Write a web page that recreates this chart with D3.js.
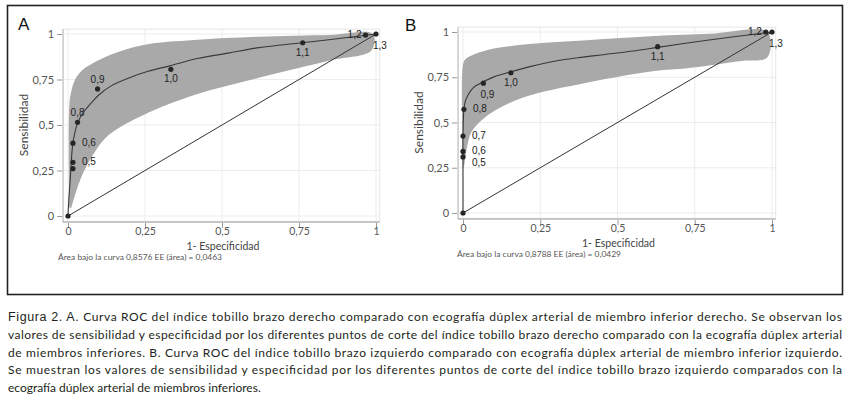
<!doctype html>
<head>
  <meta charset="utf-8">
  <script src="https://cdnjs.cloudflare.com/ajax/libs/d3/7.8.2/d3.min.js"></script>
</head>
<style>
    body { margin: 0; background: #fff; }
    svg text { font-family: Lato, "DejaVu Sans", sans-serif; }
</style>
<body>
<svg id="fig" width="851" height="396"></svg>
<script>
    // ------------ DATOS ----------------

    const tickValues = [0, 0.25, 0.5, 0.75, 1];
    const tickLabels = ["0", "0,25", "0,5", "0,75", "1"];

    // Panel A: puntos de corte (1 - especificidad, sensibilidad)
    const cutA = ["0", "", "0,5", "0,6", "0,8", "0,9", "1,0", "1,1", "1,2", "1,3"];
    const fprA = [0, 0.016, 0.016, 0.016, 0.031, 0.096, 0.334, 0.762, 0.966, 1];
    const tprA = [0, 0.26, 0.295, 0.40, 0.515, 0.698, 0.806, 0.952, 0.994, 1];
    const labelPosA = ["", "", "r", "r", "t", "t", "b", "b", "l", "br"];

    // Curva ROC ajustada A
    const curveFprA = [0, 0.003, 0.008, 0.016, 0.031, 0.05, 0.075, 0.1, 0.14, 0.2, 0.26, 0.33, 0.42, 0.52, 0.62, 0.76, 0.88, 1];
    const curveTprA = [0, 0.1, 0.22, 0.4, 0.51, 0.57, 0.62, 0.665, 0.715, 0.76, 0.795, 0.825, 0.865, 0.895, 0.925, 0.952, 0.975, 1];

    // Banda de confianza A (borde superior e inferior)
    const upperA = [[0.004, 0.05], [0.004, 0.6], [0.01, 0.68], [0.023, 0.75], [0.045, 0.8], [0.071, 0.83], [0.136, 0.885], [0.245, 0.94], [0.41, 0.967], [0.62, 0.985], [0.85, 0.995], [0.99, 1.0]];
    const lowerA = [[0.985, 0.91], [0.85, 0.855], [0.62, 0.76], [0.41, 0.665], [0.245, 0.555], [0.136, 0.45], [0.094, 0.37], [0.05, 0.24], [0.02, 0.1], [0.01, 0.04]];

    // Panel B
    const cutB = ["0", "0,5", "0,6", "0,7", "0,8", "0,9", "1,0", "1,1", "1,2", "1,3"];
    const fprB = [0, 0, 0, 0, 0.003, 0.066, 0.155, 0.63, 0.98, 1];
    const tprB = [0, 0.31, 0.34, 0.425, 0.573, 0.717, 0.775, 0.919, 1.0, 1];
    const labelPosB = ["", "rb", "r", "r", "r", "br", "b", "b", "l", "br"];

    const curveFprB = [0, 0, 0, 0.003, 0.008, 0.016, 0.027, 0.039, 0.066, 0.1, 0.155, 0.22, 0.3, 0.38, 0.46, 0.55, 0.63, 0.75, 0.87, 1];
    const curveTprB = [0, 0.2, 0.43, 0.573, 0.62, 0.65, 0.68, 0.70, 0.725, 0.752, 0.78, 0.81, 0.84, 0.86, 0.876, 0.895, 0.915, 0.945, 0.972, 1];

    const upperB = [[0.001, 0.25], [0, 0.82], [0.008, 0.85], [0.028, 0.87], [0.08, 0.9], [0.19, 0.93], [0.4, 0.955], [0.62, 0.978], [0.8, 0.99], [0.985, 1.0]];
    const lowerB = [[0.985, 0.86], [0.9, 0.84], [0.725, 0.8], [0.62, 0.785], [0.4, 0.72], [0.19, 0.635], [0.08, 0.54], [0.028, 0.45], [0.015, 0.38], [0.007, 0.3], [0.003, 0.25]];

    const areaA = "Área bajo la curva  0,8576 EE (área) = 0,0463";
    const areaB = "Área bajo la curva  0,8788 EE (área) = 0,0429";

    const caption = [
        ["Figura 2. A.", " Curva ROC del índice tobillo brazo derecho comparado con ecografía dúplex arterial de miembro inferior derecho. Se observan los"],
        ["", "valores de sensibilidad y especificidad por los diferentes puntos de corte del índice tobillo brazo derecho comparado con la ecografía dúplex arterial"],
        ["", "de miembros inferiores. B. Curva ROC del índice tobillo brazo izquierdo comparado con ecografía dúplex arterial de miembro inferior izquierdo."],
        ["", "Se muestran los valores de sensibilidad y especificidad por los diferentes puntos de corte del índice tobillo brazo izquierdo comparados con la"],
        ["", "ecografía dúplex arterial de miembros inferiores."]
    ];

    // ------------ DIBUJO ----------------

    const svg = d3.select('#fig');

    // Marco exterior
    svg.append('rect')
        .attr('x', 7.5).attr('y', 5.5)
        .attr('width', 835).attr('height', 289)
        .attr('fill', 'none')
        .attr('stroke', '#222')
        .attr('stroke-width', 1.6);

    const labelOffsets = {
        r: [9, 3, 'start'], rb: [9, 9, 'start'], t: [0, -6, 'middle'],
        b: [0, 13, 'middle'], l: [-4, 3, 'end'], br: [-3, 15, 'start']
    };

    function drawPanel(p) {
        const x = d3.scaleLinear().domain([0, 1]).range(p.xRange);
        const y = d3.scaleLinear().domain([0, 1]).range(p.yRange);
        const left = x(-0.016), right = x(1.012), top = y(1.027), bottom = y(-0.033);
        const g = svg.append('g');

        // rejilla
        g.selectAll('.gx').data(tickValues).enter().append('line')
            .attr('x1', d => x(d)).attr('x2', d => x(d))
            .attr('y1', top).attr('y2', bottom)
            .attr('stroke', '#ececec');
        g.selectAll('.gy').data(tickValues).enter().append('line')
            .attr('x1', left).attr('x2', right)
            .attr('y1', d => y(d)).attr('y2', d => y(d))
            .attr('stroke', '#ececec');
        g.append('rect')
            .attr('x', left).attr('y', top)
            .attr('width', right - left).attr('height', bottom - top)
            .attr('fill', 'none').attr('stroke', '#e6e6e6');

        // banda
        const band = p.upper.concat(p.lower);
        const smooth = d3.line()
            .x(d => x(d[0])).y(d => y(d[1]))
            .curve(d3.curveCatmullRom.alpha(0.5));
        g.append('path')
            .attr('d', smooth(band) + 'Z')
            .attr('fill', '#a9a9a9');

        // diagonal
        g.append('line')
            .attr('x1', x(0)).attr('y1', y(0))
            .attr('x2', x(1)).attr('y2', y(1))
            .attr('stroke', '#333').attr('stroke-width', 1);

        // curva
        const curve = p.curveFpr.map((f, i) => [f, p.curveTpr[i]]);
        g.append('path')
            .attr('d', smooth(curve))
            .attr('fill', 'none')
            .attr('stroke', '#3a3a3a')
            .attr('stroke-width', 1.1);

        // puntos de corte
        const pts = p.fpr.map((f, i) => ({ f: f, t: p.tpr[i], label: p.cut[i], pos: p.labelPos[i] }));
        g.selectAll('.pt').data(pts).enter().append('circle')
            .attr('cx', d => x(d.f)).attr('cy', d => y(d.t))
            .attr('r', 2.6).attr('fill', '#262626');
        g.selectAll('.lab').data(pts.filter(d => d.pos)).enter().append('text')
            .attr('x', d => x(d.f) + labelOffsets[d.pos][0])
            .attr('y', d => y(d.t) + labelOffsets[d.pos][1])
            .attr('text-anchor', d => labelOffsets[d.pos][2])
            .style('font-family', '"Liberation Sans", Arial, sans-serif')
            .style('font-size', '10px')
            .attr('fill', '#222')
            .text(d => d.label);

        // ejes
        const fmt = d => tickLabels[tickValues.indexOf(d)];
        const yAxis = g.append('g')
            .attr('transform', `translate(${left - 1},0)`)
            .call(d3.axisLeft(y).tickValues(tickValues).tickFormat(fmt).tickSize(5).tickPadding(3));
        const xAxis = g.append('g')
            .attr('transform', `translate(0,${bottom + 1})`)
            .call(d3.axisBottom(x).tickValues(tickValues).tickFormat(fmt).tickSize(5).tickPadding(0));
        [yAxis, xAxis].forEach(a => {
            a.select('.domain').remove();
            a.selectAll('line').attr('stroke', '#999');
            a.selectAll('text')
                .style('font-family', 'Lato, sans-serif')
                .style('font-size', '11px')
                .attr('fill', '#555');
        });
        xAxis.selectAll('text').style('font-size', '10.5px');
        g.append('line')
            .attr('x1', left).attr('x2', left).attr('y1', top).attr('y2', bottom)
            .attr('stroke', '#bbb');
        g.append('line')
            .attr('x1', left).attr('x2', right).attr('y1', bottom).attr('y2', bottom)
            .attr('stroke', '#999');

        // títulos
        g.append('text')
            .attr('transform', `translate(${left - 35},${y(0.5)}) rotate(-90)`)
            .attr('text-anchor', 'middle')
            .style('font-size', '12px').attr('fill', '#444')
            .text('Sensibilidad');
        g.append('text')
            .attr('x', x(0.5) + 1).attr('y', y(0) + 34)
            .attr('text-anchor', 'middle')
            .style('font-size', '11.5px').attr('fill', '#444')
            .attr('textLength', 73).attr('lengthAdjust', 'spacingAndGlyphs')
            .text('1- Especificidad');
        g.append('text')
            .attr('x', p.areaX).attr('y', y(0) + 44)
            .style('font-size', '8px').attr('fill', '#555')
            .attr('textLength', 164).attr('lengthAdjust', 'spacingAndGlyphs')
            .text(p.area);

        // letra del panel
        svg.append('text')
            .attr('x', p.letterX).attr('y', p.letterY)
            .style('font-family', '"Liberation Sans", Arial, sans-serif')
            .style('font-size', '17px').attr('fill', '#111')
            .text(p.letter);
    }

    drawPanel({
        xRange: [68, 376], yRange: [216, 34],
        cut: cutA, fpr: fprA, tpr: tprA, labelPos: labelPosA,
        curveFpr: curveFprA, curveTpr: curveTprA,
        upper: upperA, lower: lowerA,
        area: areaA, areaX: 58, letter: 'A', letterX: 18, letterY: 30
    });

    drawPanel({
        xRange: [463, 772], yRange: [213, 32],
        cut: cutB, fpr: fprB, tpr: tprB, labelPos: labelPosB,
        curveFpr: curveFprB, curveTpr: curveTprB,
        upper: upperB, lower: lowerB,
        area: areaB, areaX: 457, letter: 'B', letterX: 405, letterY: 31
    });

    // ------------ PIE DE FIGURA ----------------
    svg.selectAll('.cap').data(caption).enter().append('text')
        .attr('x', 8)
        .attr('y', (d, i) => 321 + i * 17.8)
        .style('font-size', '12px')
        .attr('fill', '#231f20')
        .each(function (d, i) {
            const t = d3.select(this);
            if (i < caption.length - 1) {
                t.attr('textLength', 834).attr('lengthAdjust', 'spacing');
            }
            if (d[0]) {
                t.append('tspan')
                    .style('font-family', '"Liberation Sans", Arial, sans-serif')
                    .style('font-size', '12.5px')
                    .text(d[0]);
            }
            t.append('tspan').text(d[1]);
        });
</script>
</body>
